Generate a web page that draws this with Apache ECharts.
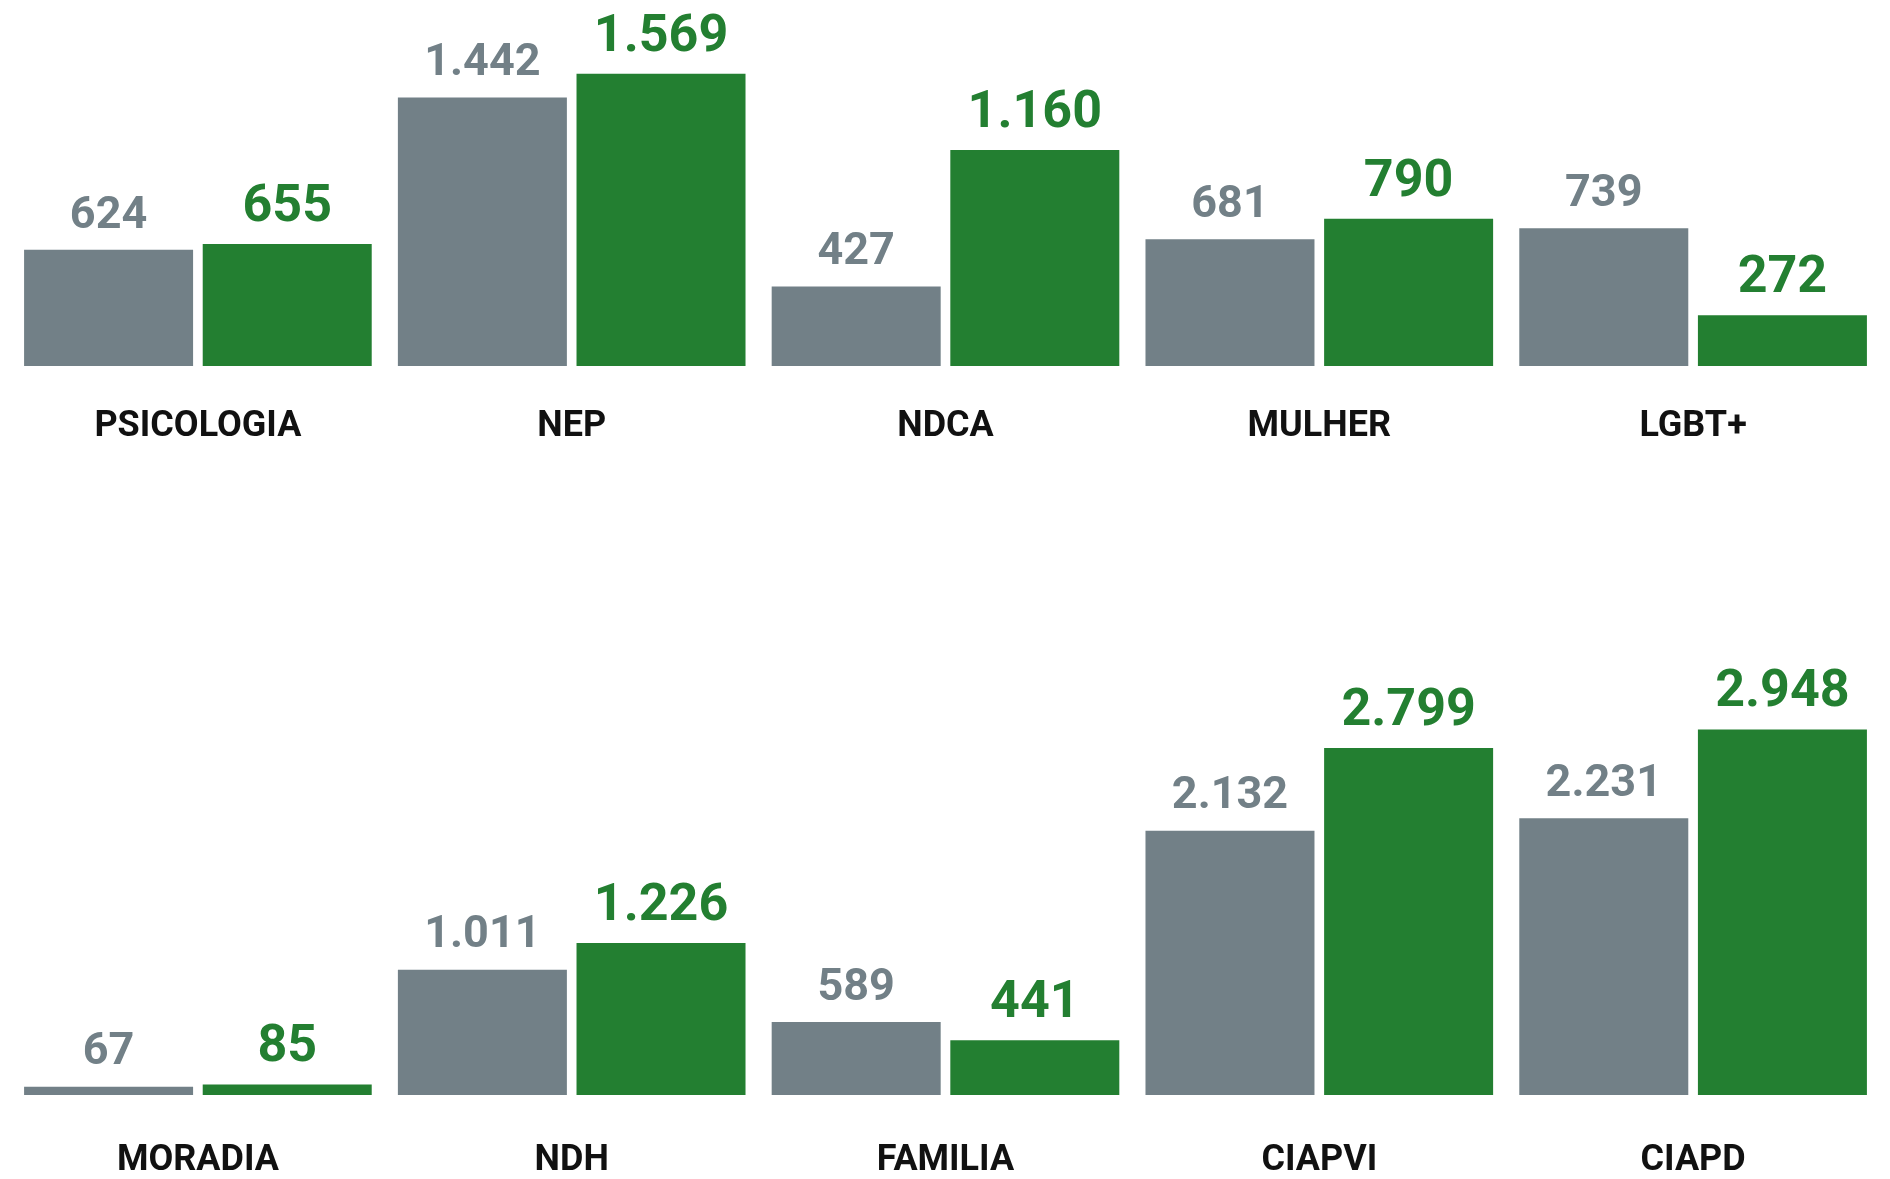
<!DOCTYPE html>
<html>
<head>
<meta charset="utf-8">
<script src="https://cdn.jsdelivr.net/npm/echarts@6/dist/echarts.min.js"></script>
<style>
  html, body { margin: 0; padding: 0; background: #fff; }
  #main { width: 1890px; height: 1179px; }
</style>
</head>
<body>
<div id="main"></div>
<script>
// linha de cima
var topCats = ["PSICOLOGIA", "NEP", "NDCA", "MULHER", "LGBT+"];
var topPrev = [624, 1442, 427, 681, 739];
var topCurr = [655, 1569, 1160, 790, 272];

// linha de baixo
var bottomCats = ["MORADIA", "NDH", "FAMILIA", "CIAPVI", "CIAPD"];
var bottomPrev = [67, 1011, 589, 2132, 2231];
var bottomCurr = [85, 1226, 441, 2799, 2948];

var GRAY = "#728087";
var GREEN = "#237f31";
var FONT = "Roboto";

// 1442 -> "1.442"
function fmt(v) {
  return String(v).replace(/\B(?=(\d{3})+(?!\d))/g, ".");
}

function xAxis(idx, cats, margin) {
  return {
    type: "category",
    gridIndex: idx,
    data: cats,
    axisLine: { show: false },
    axisTick: { show: false },
    axisLabel: {
      margin: margin,
      color: "#111",
      fontFamily: FONT,
      fontWeight: "bold",
      fontSize: 36
    }
  };
}

function yAxis(idx, max) {
  return {
    type: "value",
    gridIndex: idx,
    min: 0,
    max: max,
    show: false,
    splitLine: { show: false }
  };
}

function barSeries(idx, data, color, size, dist) {
  return {
    type: "bar",
    xAxisIndex: idx,
    yAxisIndex: idx,
    data: data,
    barWidth: 169,
    barGap: "5.7%",
    itemStyle: { color: color },
    label: {
      show: true,
      position: "top",
      distance: dist,
      color: color,
      fontFamily: FONT,
      fontWeight: "bold",
      fontSize: size,
      formatter: function(p) {
        return fmt(p.value);
      }
    },
    animation: false
  };
}

var option = {
  backgroundColor: "#fff",
  grid: [
    { left: 11, right: 10, top: 0, height: 366 },
    { left: 11, right: 10, top: 723, height: 374 }
  ],
  xAxis: [xAxis(0, topCats, 43), xAxis(1, bottomCats, 48)],
  yAxis: [yAxis(0, 1965), yAxis(1, 3000)],
  series: [
    barSeries(0, topPrev, GRAY, 45, 11),
    barSeries(0, topCurr, GREEN, 52, 10),
    barSeries(1, bottomPrev, GRAY, 45, 11),
    barSeries(1, bottomCurr, GREEN, 52, 10)
  ]
};

var myChart = echarts.init(document.getElementById("main"));
myChart.setOption(option);
</script>
</body>
</html>
